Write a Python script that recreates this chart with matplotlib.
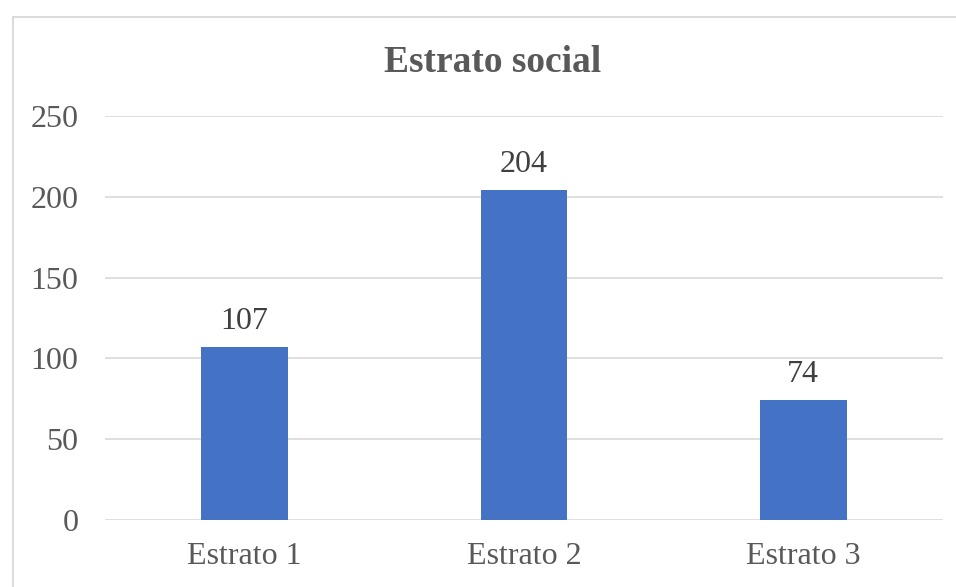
import numpy as np
import matplotlib.pyplot as plt
from matplotlib.lines import Line2D

# data
categories = ['Estrato 1', 'Estrato 2', 'Estrato 3']
values = [107, 204, 74]
yticks = [0, 50, 100, 150, 200, 250]

plt.rcParams['font.family'] = ['Liberation Serif', 'DejaVu Serif']

W, H = 956, 587
fig = plt.figure(figsize=(W / 100, H / 100), dpi=100)
ax = fig.add_axes([105 / W, (H - 520) / H, (943 - 105) / W, (520 - 116) / H])

x = np.arange(len(categories))
ax.bar(x, values, width=0.31, color='#4472C4', zorder=3)
for xi, v in zip(x, values):
    ax.annotate(str(v), (xi, v), xytext=(0, 8), textcoords='offset points',
                ha='center', va='bottom', fontsize=23, color='#404040')

ax.set_xlim(-0.5, len(categories) - 0.5)
ax.set_ylim(0, 250)
ax.set_yticks(yticks)
ax.set_xticks(x)
ax.set_xticklabels(categories)
ax.tick_params(axis='both', length=0, labelsize=23, labelcolor='#595959')
ax.tick_params(axis='y', pad=19)
ax.tick_params(axis='x', pad=16)
ax.grid(axis='y', color='#d9d9d9', linewidth=1.2, zorder=0)
for s in ax.spines.values():
    s.set_visible(False)

fig.text(493 / W, 1 - 63 / H, 'Estrato social', ha='center', va='center',
         fontsize=27, fontweight='bold', color='#595959')

# chart border (only top and left are inside the picture)
fig.add_artist(Line2D([12.5 / W, 1], [1 - 16.5 / H, 1 - 16.5 / H],
                      transform=fig.transFigure, color='#d9d9d9', linewidth=1.3))
fig.add_artist(Line2D([12.5 / W, 12.5 / W], [1 - 16.5 / H, 0],
                      transform=fig.transFigure, color='#d9d9d9', linewidth=1.3))

fig.savefig('out.png', dpi=100)
